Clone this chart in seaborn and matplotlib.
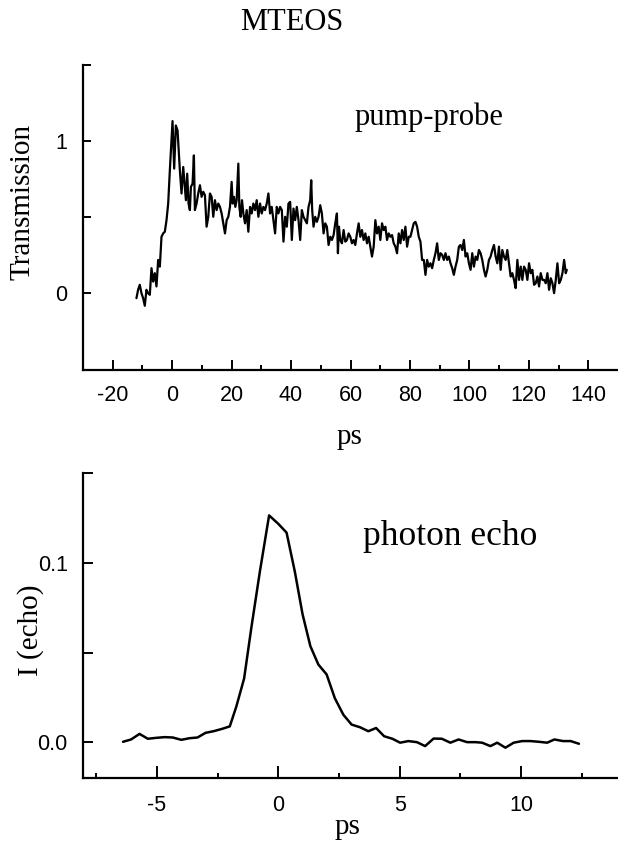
import matplotlib
matplotlib.use("Agg")
import matplotlib.pyplot as plt
import seaborn as sns

# pump-probe trace (ps, transmission)
pp_time = [
    -12.02, -11.46, -10.90, -10.33, -9.77, -9.21, -8.65, -8.09, -7.52, -6.96,
    -6.40, -5.84, -5.28, -4.71, -4.15, -3.59, -3.03, -2.47, -1.90, -1.34,
    -0.78, -0.22, 0.12, 0.68, 1.24, 1.81, 2.14, 2.59, 3.15, 3.72,
    4.28, 4.62, 5.06, 5.51, 5.96, 6.30, 6.86, 7.31, 7.65, 8.21,
    8.77, 9.34, 9.90, 10.46, 11.02, 11.58, 12.15, 12.71, 13.27, 13.83,
    14.39, 14.96, 15.52, 16.08, 16.64, 17.20, 17.77, 18.33, 18.89, 19.45,
    20.01, 20.35, 20.80, 21.25, 21.70, 22.26, 22.60, 23.05, 23.50, 23.95,
    24.51, 25.07, 25.63, 26.20, 26.76, 27.32, 27.88, 28.44, 29.01, 29.57,
    30.13, 30.69, 31.25, 31.82, 32.38, 32.94, 33.50, 34.06, 34.63, 35.19,
    35.75, 36.31,
    36.89, 37.45, 38.01, 38.57, 39.13, 39.70, 40.26, 40.82, 41.38, 41.94,
    42.51, 43.07, 43.63, 44.19, 44.75, 45.32, 45.88, 46.44, 46.78, 47.11,
    47.56, 48.13, 48.69, 49.25, 49.81, 50.37, 50.94, 51.50, 52.06, 52.62,
    53.18, 53.75, 54.31, 54.87, 55.43, 55.77, 56.11, 56.56, 57.12, 57.68,
    58.24, 58.80, 59.37, 59.93, 60.49, 61.05, 61.61, 62.18, 62.74, 63.30,
    63.86, 64.42, 64.99, 65.55, 66.11, 66.67, 67.23, 67.80, 68.36, 68.92,
    69.48, 70.04, 70.61, 71.17, 71.73, 72.29, 72.85, 73.42, 73.98, 74.54,
    75.10, 75.66, 76.23, 76.79, 77.35, 77.91, 78.47, 79.04, 79.60, 80.16,
    80.72, 81.28, 81.85, 82.41, 82.97, 83.53, 84.09, 84.66, 85.22, 85.78,
    86.34, 86.90, 87.47, 88.03, 88.59, 89.15, 89.71, 90.28, 90.84, 91.40,
    91.96, 92.52, 93.09, 93.65, 94.21, 94.77, 95.33, 95.90, 96.46, 97.02,
    97.59, 98.15, 98.71, 99.28, 99.84, 100.40, 100.96, 101.52, 102.09, 102.65,
    103.21, 103.77, 104.33, 104.90, 105.46, 106.02, 106.58, 107.14, 107.71, 108.27,
    108.83, 109.39, 109.95, 110.52, 111.08, 111.64, 112.20, 112.76, 113.33, 113.89,
    114.45, 115.01, 115.57, 116.14, 116.70, 117.26, 117.82, 118.38, 118.95, 119.51,
    120.07, 120.63, 121.19, 121.76, 122.32, 122.88, 123.44, 124.00, 124.57, 125.13,
    125.69, 126.25, 126.81, 127.38, 127.94, 128.50, 129.06, 129.62, 130.19, 130.75,
    131.31, 131.87, 132.43, 132.77,
]
pp_trans = [
    -0.032, 0.023, 0.056, 0.001, -0.032, -0.082, 0.023, 0.001, -0.010, 0.165,
    0.077, 0.132, 0.045, 0.219, 0.175, 0.371, 0.393, 0.404, 0.480, 0.589,
    0.807, 1.003, 1.130, 0.818, 1.101, 1.069, 0.960, 0.807, 0.655, 0.829,
    0.698, 0.611, 0.785, 0.589, 0.546, 0.698, 0.720, 0.905, 0.546, 0.589,
    0.655, 0.709, 0.633, 0.666, 0.644, 0.437, 0.502, 0.655, 0.633, 0.502,
    0.611, 0.546, 0.589, 0.567, 0.524, 0.459, 0.393, 0.480, 0.502, 0.567,
    0.731, 0.589, 0.633, 0.567, 0.611, 0.851, 0.567, 0.502, 0.611, 0.524,
    0.459, 0.546, 0.404, 0.567, 0.524, 0.589, 0.546, 0.611, 0.502, 0.589,
    0.524, 0.567, 0.546, 0.589, 0.655, 0.524, 0.567, 0.480, 0.393, 0.567,
    0.524, 0.567,
    0.546, 0.339, 0.502, 0.437, 0.589, 0.600, 0.350, 0.556, 0.480, 0.567,
    0.480, 0.350, 0.546, 0.502, 0.480, 0.459, 0.567, 0.611, 0.742, 0.546,
    0.437, 0.502, 0.469, 0.502, 0.578, 0.524, 0.393, 0.459, 0.437, 0.317,
    0.371, 0.350, 0.382, 0.459, 0.524, 0.263, 0.437, 0.350, 0.328, 0.415,
    0.339, 0.350, 0.393, 0.371, 0.328, 0.350, 0.317, 0.393, 0.459, 0.371,
    0.415, 0.350, 0.393, 0.328, 0.371, 0.306, 0.241, 0.306, 0.480, 0.393,
    0.437, 0.350, 0.459, 0.415, 0.437, 0.350, 0.393, 0.371, 0.382, 0.328,
    0.306, 0.263, 0.393, 0.328, 0.415, 0.350, 0.437, 0.306, 0.371, 0.371,
    0.415, 0.459, 0.469, 0.437, 0.371, 0.339, 0.219, 0.219, 0.121, 0.219,
    0.175, 0.197, 0.165, 0.219, 0.263, 0.328, 0.219, 0.263, 0.252, 0.219,
    0.263, 0.219, 0.241, 0.197, 0.165, 0.121, 0.175, 0.219, 0.306, 0.317,
    0.284, 0.350, 0.241, 0.263, 0.197, 0.154, 0.263, 0.175, 0.241, 0.219,
    0.284, 0.263, 0.219, 0.154, 0.110, 0.154, 0.219, 0.241, 0.284, 0.317,
    0.241, 0.197, 0.306, 0.154, 0.284, 0.241, 0.219, 0.284, 0.197, 0.110,
    0.132, 0.088, 0.034, 0.219, 0.088, 0.175, 0.088, 0.175, 0.154, 0.088,
    0.197, 0.132, 0.154, 0.056, 0.066, 0.110, 0.045, 0.132, 0.088, 0.088,
    0.066, 0.132, 0.023, 0.099, 0.066, 0.001, 0.088, 0.197, 0.066, 0.088,
    0.132, 0.219, 0.132, 0.154,
]

# photon echo trace (ps, intensity)
echo_time = [
    -6.40, -6.07, -5.72, -5.38, -5.03, -4.69, -4.35, -4.00, -3.66, -3.33,
    -3.00, -2.67, -2.32, -2.00, -1.73, -1.41, -1.11, -0.76, -0.38, 0.00,
    0.34, 0.68, 1.00, 1.32, 1.65, 1.99, 2.33, 2.68, 3.02, 3.37,
    3.71, 4.03, 4.36, 4.70, 5.02, 5.36, 5.71, 6.05, 6.40, 6.74,
    7.09, 7.43, 7.78, 8.12, 8.40, 8.74, 9.02, 9.36, 9.70, 10.05,
    10.39, 10.74, 11.08, 11.38, 11.73, 12.05, 12.39,
]
echo_int = [
    0.0002, 0.0015, 0.0046, 0.0019, 0.0024, 0.0028, 0.0026, 0.0013, 0.0022, 0.0026,
    0.0052, 0.0061, 0.0074, 0.0088, 0.0199, 0.0355, 0.0640, 0.0952, 0.1265, 0.1218,
    0.1169, 0.0952, 0.0713, 0.0536, 0.0433, 0.0378, 0.0245, 0.0153, 0.0098, 0.0083,
    0.0061, 0.0079, 0.0033, 0.0019, -0.0003, 0.0006, 0.0000, -0.0022, 0.0020, 0.0019,
    -0.0003, 0.0015, 0.0000, 0.0000, -0.0003, -0.0022, -0.0003, -0.0031, -0.0003, 0.0006,
    0.0006, 0.0002, -0.0003, 0.0015, 0.0006, 0.0006, -0.0009,
]

sns.set_style("ticks")
plt.rcParams["font.family"] = ["Liberation Serif", "DejaVu Serif"]
plt.rcParams["axes.unicode_minus"] = False
plt.rcParams["text.color"] = "black"
plt.rcParams["axes.labelcolor"] = "black"
plt.rcParams["axes.edgecolor"] = "black"
tick_font = "Liberation Sans"

W, H = 618, 842
fig = plt.figure(figsize=(W / 100, H / 100), dpi=100)
ax1 = fig.add_axes([83 / W, 1 - 369.5 / H, 535 / W, 304.8 / H])
ax2 = fig.add_axes([83 / W, 1 - 778 / H, 535 / W, 304.7 / H])

sns.lineplot(x=pp_time, y=pp_trans, ax=ax1, color="black", linewidth=1.6, estimator=None)
sns.lineplot(x=echo_time, y=echo_int, ax=ax2, color="black", linewidth=1.8, estimator=None)

# top panel
ax1.set_xlim(-30, 150)
ax1.set_ylim(-0.5, 1.5)
ax1.set_xticks([-20, 0, 20, 40, 60, 80, 100, 120, 140])
ax1.set_xticks([-10, 10, 30, 50, 70, 90, 110, 130], minor=True)
ax1.set_yticks([0, 1])
ax1.set_yticks([-0.5, 0.5, 1.5], minor=True)
ax1.tick_params(axis="x", which="major", length=7, pad=11)
ax1.tick_params(axis="x", which="minor", length=3.5)
ax1.tick_params(axis="y", which="both", length=6, pad=11)
ax1.set_xlabel("ps", fontsize=21, va="center", ha="center")
ax1.set_ylabel("Transmission", fontsize=21, va="center", ha="center")
ax1.xaxis.set_label_coords(0.499, -0.221)
ax1.yaxis.set_label_coords(-0.114, 0.55)
ax1.text(0.508, 0.802, "pump-probe", transform=ax1.transAxes, fontsize=22,
         ha="left", va="baseline")

# bottom panel
ax2.set_xlim(-8.05, 14)
ax2.set_ylim(-0.02, 0.15)
ax2.set_xticks([-5, 0, 5, 10])
ax2.set_xticks([-7.5, -2.5, 2.5, 7.5, 12.5], minor=True)
ax2.set_yticks([0.0, 0.1])
ax2.set_yticklabels(["0.0", "0.1"])
ax2.set_yticks([0.05, 0.15], minor=True)
ax2.tick_params(axis="x", which="major", length=8.5, pad=12)
ax2.tick_params(axis="x", which="minor", length=3.5)
ax2.tick_params(axis="y", which="both", length=7, pad=11)
ax2.set_xlabel("ps", fontsize=21, va="center", ha="center")
ax2.set_ylabel("I (echo)", fontsize=21, va="center", ha="center")
ax2.xaxis.set_label_coords(0.495, -0.161)
ax2.yaxis.set_label_coords(-0.099, 0.486)
ax2.text(0.523, 0.765, "photon echo", transform=ax2.transAxes, fontsize=25.5,
         ha="left", va="baseline")

for ax in (ax1, ax2):
    sns.despine(ax=ax)
    for side in ("left", "bottom"):
        ax.spines[side].set_linewidth(1.6)
        ax.spines[side].set_color("black")
    ax.tick_params(axis="both", which="both", direction="in", width=1.4,
                   labelsize=15.5, labelfontfamily=tick_font, colors="black")

fig.text(291.5 / W, 1 - 22 / H, "MTEOS", fontsize=22, ha="center", va="center")

fig.savefig("out.png", dpi=100)
